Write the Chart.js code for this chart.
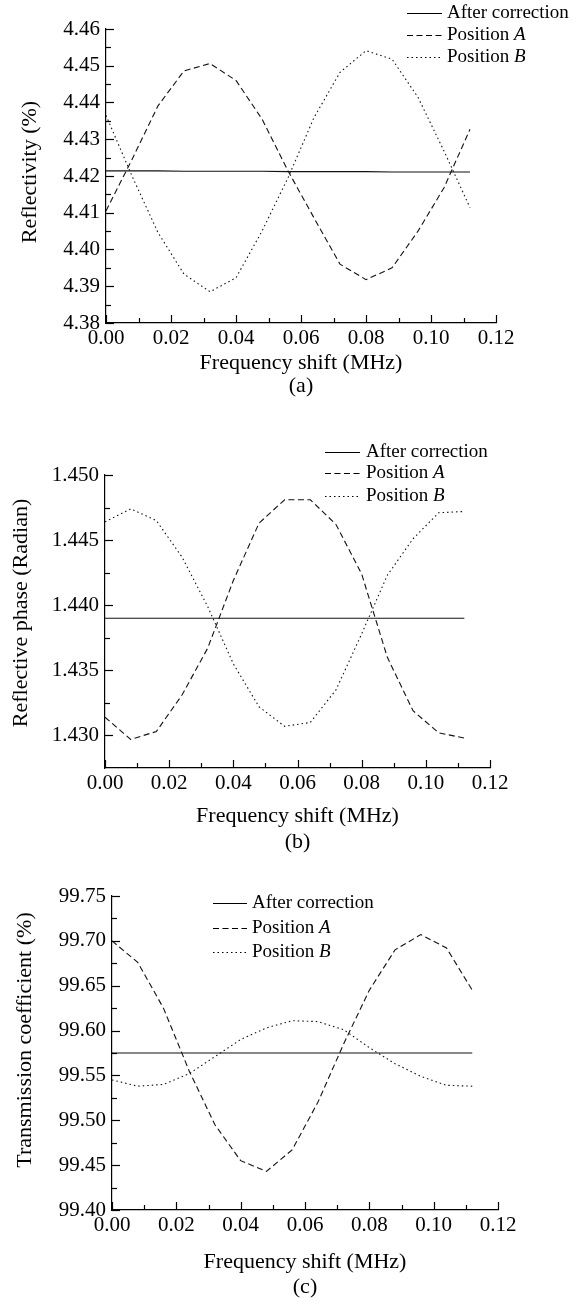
<!DOCTYPE html>
<html>
<head>
<meta charset="utf-8">
<script src="https://cdn.jsdelivr.net/npm/chart.js@4.4.1/dist/chart.umd.min.js"></script>
<style>
  html, body { margin: 0; padding: 0; background: #fff; }
  body { width: 576px; height: 1309px; position: relative; overflow: hidden; }
  canvas { position: absolute; left: 0; }
</style>
</head>
<body>
<canvas id="chartA" width="576" height="400" style="top:0px"></canvas>
<canvas id="chartB" width="576" height="460" style="top:400px"></canvas>
<canvas id="chartC" width="576" height="449" style="top:860px"></canvas>
<script>
// frequency shift (MHz), same grid for the three panels
var freqShift = [0, 0.008, 0.016, 0.024, 0.032, 0.040, 0.048, 0.056, 0.064, 0.072, 0.080, 0.088, 0.096, 0.104, 0.112];
var xTicks = [0, 0.02, 0.04, 0.06, 0.08, 0.10, 0.12];
var legendLabels = ["After correction", "Position A", "Position B"];

// (a) reflectivity (%)
var reflCorrected = [4.4214, 4.4214, 4.4214, 4.4213, 4.4213, 4.4213, 4.4213, 4.4212, 4.4212, 4.4212, 4.4212, 4.4211, 4.4211, 4.4211, 4.4211];
var reflPosA = [4.4105, 4.4245, 4.4391, 4.4486, 4.4506, 4.4460, 4.4355, 4.4214, 4.4086, 4.3960, 4.3918, 4.3950, 4.4050, 4.4168, 4.4327];
var reflPosB = [4.4365, 4.4200, 4.4046, 4.3933, 4.3885, 4.3923, 4.4050, 4.4195, 4.4359, 4.4482, 4.4541, 4.4518, 4.4414, 4.4268, 4.4114];
var reflTicks = [4.38, 4.39, 4.40, 4.41, 4.42, 4.43, 4.44, 4.45, 4.46];

// (b) reflective phase (radian)
var phaseCorrected = [1.4390, 1.4390, 1.4390, 1.4390, 1.4390, 1.4390, 1.4390, 1.4390, 1.4390, 1.4390, 1.4390, 1.4390, 1.4390, 1.4390, 1.4390];
var phasePosA = [1.4314, 1.4297, 1.4303, 1.4331, 1.4367, 1.4419, 1.4463, 1.4481, 1.4481, 1.4462, 1.4424, 1.4360, 1.4319, 1.4302, 1.4298];
var phasePosB = [1.4464, 1.4474, 1.4465, 1.4437, 1.4399, 1.4355, 1.4322, 1.4307, 1.4310, 1.4335, 1.4378, 1.4423, 1.4451, 1.4471, 1.4472];
var phaseTicks = [1.430, 1.435, 1.440, 1.445, 1.450];

// (c) transmission coefficient (%)
var transCorrected = [99.575, 99.575, 99.575, 99.575, 99.575, 99.575, 99.575, 99.575, 99.575, 99.575, 99.575, 99.575, 99.575, 99.575, 99.575];
var transPosA = [99.700, 99.676, 99.625, 99.555, 99.495, 99.455, 99.443, 99.467, 99.520, 99.585, 99.645, 99.690, 99.707, 99.692, 99.645];
var transPosB = [99.545, 99.538, 99.540, 99.552, 99.571, 99.590, 99.603, 99.611, 99.610, 99.601, 99.581, 99.563, 99.549, 99.539, 99.538];
var transTicks = [99.40, 99.45, 99.50, 99.55, 99.60, 99.65, 99.70, 99.75];

var FONT = "'Liberation Serif', 'Times New Roman', serif";

function makePoints(ys) {
  return freqShift.map(function (x, i) { return { x: x, y: ys[i] }; });
}

function midpoints(vals) {
  var out = [];
  for (var i = 0; i < vals.length - 1; i++) out.push((vals[i] + vals[i + 1]) / 2);
  return out;
}

// inward ticks (major + minor), axis titles, panel letter and the legend
var frameText = {
  id: "frameText",
  afterDraw: function (chart, args, opts) {
    var ctx = chart.ctx;
    var area = chart.chartArea;
    var sx = chart.scales.x, sy = chart.scales.y;
    ctx.save();
    ctx.strokeStyle = "#000";
    ctx.lineWidth = 1.2;

    function tickX(v, len) {
      var p = Math.round(sx.getPixelForValue(v)) + 0.5;
      ctx.beginPath(); ctx.moveTo(p, area.bottom); ctx.lineTo(p, area.bottom - len); ctx.stroke();
    }
    function tickY(v, len) {
      var p = Math.round(sy.getPixelForValue(v)) + 0.5;
      ctx.beginPath(); ctx.moveTo(area.left, p); ctx.lineTo(area.left + len, p); ctx.stroke();
    }
    xTicks.forEach(function (v) { tickX(v, 8); });
    midpoints(xTicks).forEach(function (v) { tickX(v, 5); });
    opts.yTicks.forEach(function (v) { tickY(v, 8); });
    midpoints(opts.yTicks).forEach(function (v) { tickY(v, 5); });

    ctx.fillStyle = "#000";
    ctx.textAlign = "center";
    ctx.textBaseline = "middle";
    ctx.font = "22px " + FONT;
    var cx = (area.left + area.right) / 2;
    ctx.fillText("Frequency shift (MHz)", cx, opts.xTitleY);
    ctx.fillText(opts.panel, cx, opts.panelY);

    ctx.save();
    ctx.translate(opts.yTitleX, opts.yTitleY);
    ctx.rotate(-Math.PI / 2);
    ctx.fillText(opts.yTitle, 0, 0);
    ctx.restore();

    // legend
    var lg = opts.legend;
    ctx.textAlign = "left";
    chart.data.datasets.forEach(function (ds, i) {
      var y = lg.rows[i];
      ctx.save();
      ctx.setLineDash(ds.borderDash || []);
      ctx.lineWidth = 1.1;
      ctx.strokeStyle = "#000";
      ctx.beginPath();
      ctx.moveTo(lg.x0, Math.round(y) + 0.5);
      ctx.lineTo(lg.x1, Math.round(y) + 0.5);
      ctx.stroke();
      ctx.restore();
      var label = ds.label;
      if (label.indexOf("Position ") === 0) {
        var head = "Position ";
        ctx.font = "19px " + FONT;
        ctx.fillText(head, lg.textX, y);
        var w = ctx.measureText(head).width;
        ctx.font = "italic 19px " + FONT;
        ctx.fillText(label.slice(head.length), lg.textX + w, y);
      } else {
        ctx.font = "19px " + FONT;
        ctx.fillText(label, lg.textX, y);
      }
    });
    ctx.restore();
  }
};

function buildChart(id, cfg) {
  var el = document.getElementById(id);
  var H = el.height;
  return new Chart(el, {
    type: "line",
    data: {
      datasets: [
        { label: legendLabels[0], data: makePoints(cfg.corrected), borderDash: [] },
        { label: legendLabels[1], data: makePoints(cfg.posA), borderDash: [6, 3.5] },
        { label: legendLabels[2], data: makePoints(cfg.posB), borderDash: [1.5, 3] }
      ].map(function (ds) {
        ds.borderColor = "#111";
        ds.borderWidth = 1.1;
        ds.pointRadius = 0;
        ds.tension = 0;
        ds.fill = false;
        return ds;
      })
    },
    options: {
      responsive: false,
      animation: false,
      events: [],
      layout: { padding: { left: 0, top: cfg.area.top, right: 576 - cfg.area.right, bottom: 0 } },
      plugins: {
        legend: { display: false },
        tooltip: { enabled: false },
        frameText: cfg.text
      },
      scales: {
        x: {
          type: "linear",
          min: 0,
          max: 0.12,
          grid: { display: false, drawTicks: false },
          border: { display: true, color: "#000", width: 1.2 },
          ticks: {
            padding: 3,
            autoSkip: false,
            maxRotation: 0,
            color: "#000",
            font: { family: FONT, size: 21 },
            callback: function (v) { return Number(v).toFixed(2); }
          },
          afterBuildTicks: function (s) { s.ticks = xTicks.map(function (v) { return { value: v }; }); },
          afterFit: function (s) { s.height = H - cfg.area.bottom; }
        },
        y: {
          min: cfg.yMin,
          max: cfg.yMax,
          grid: { display: false, drawTicks: false },
          border: { display: true, color: "#000", width: 1.2 },
          ticks: {
            padding: 6,
            autoSkip: false,
            color: "#000",
            font: { family: FONT, size: 21 },
            callback: function (v) { return Number(v).toFixed(cfg.decimals); }
          },
          afterBuildTicks: function (s) { s.ticks = cfg.text.yTicks.map(function (v) { return { value: v }; }); },
          afterFit: function (s) { s.width = cfg.area.left; }
        }
      }
    },
    plugins: [frameText]
  });
}

buildChart("chartA", {
  corrected: reflCorrected, posA: reflPosA, posB: reflPosB,
  yMin: 4.38, yMax: 4.46, decimals: 2,
  area: { left: 106, top: 29, right: 496, bottom: 323 },
  text: {
    yTicks: reflTicks, yTitle: "Reflectivity (%)", yTitleX: 30, yTitleY: 172,
    xTitleY: 363, panel: "(a)", panelY: 386,
    legend: { x0: 407, x1: 442, textX: 447, rows: [13, 35, 57] }
  }
});

buildChart("chartB", {
  corrected: phaseCorrected, posA: phasePosA, posB: phasePosB,
  yMin: 1.4275, yMax: 1.450, decimals: 3,
  area: { left: 105, top: 75, right: 490, bottom: 368 },
  text: {
    yTicks: phaseTicks, yTitle: "Reflective phase (Radian)", yTitleX: 21, yTitleY: 213,
    xTitleY: 416, panel: "(b)", panelY: 442,
    legend: { x0: 325, x1: 360, textX: 366, rows: [52, 73, 96] }
  }
});

buildChart("chartC", {
  corrected: transCorrected, posA: transPosA, posB: transPosB,
  yMin: 99.40, yMax: 99.75, decimals: 2,
  area: { left: 112, top: 36, right: 498, bottom: 350 },
  text: {
    yTicks: transTicks, yTitle: "Transmission coefficient (%)", yTitleX: 25, yTitleY: 180,
    xTitleY: 402, panel: "(c)", panelY: 427,
    legend: { x0: 213, x1: 247, textX: 252, rows: [43, 68, 92] }
  }
});
</script>
</body>
</html>
